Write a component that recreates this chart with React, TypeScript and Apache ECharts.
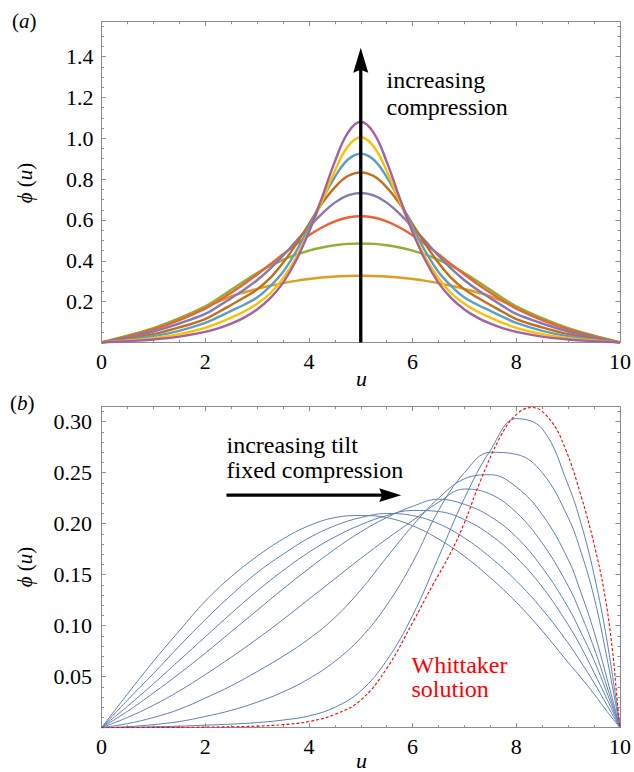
import React, { useEffect, useRef } from "react";
import * as echarts from "echarts";

// ---------- panel (a): profiles for increasing compression ----------
const uA = [0, 0.5, 1, 1.5, 2, 2.25, 2.5, 2.75, 3, 3.25, 3.5, 3.75, 4, 4.25, 4.5, 4.75, 5, 5.25, 5.5, 5.75, 6, 6.25, 6.5, 6.75, 7, 7.25, 7.5, 7.75, 8, 8.5, 9, 9.5, 10];

const phiA1 = [0, 0.032, 0.068, 0.116, 0.172, 0.2, 0.226, 0.245, 0.262, 0.278, 0.291, 0.302, 0.311, 0.318, 0.323, 0.326, 0.327, 0.326, 0.323, 0.318, 0.311, 0.302, 0.291, 0.278, 0.262, 0.245, 0.226, 0.2, 0.172, 0.116, 0.068, 0.032, 0];
const phiA2 = [0, 0.033, 0.07, 0.119, 0.177, 0.216, 0.258, 0.30, 0.34, 0.375, 0.405, 0.43, 0.45, 0.465, 0.476, 0.483, 0.485, 0.483, 0.476, 0.465, 0.45, 0.43, 0.405, 0.375, 0.34, 0.30, 0.258, 0.216, 0.177, 0.119, 0.07, 0.033, 0];
const phiA3 = [0, 0.03, 0.064, 0.11, 0.166, 0.203, 0.244, 0.287, 0.333, 0.382, 0.432, 0.48, 0.525, 0.563, 0.593, 0.612, 0.618, 0.612, 0.593, 0.563, 0.525, 0.48, 0.432, 0.382, 0.333, 0.287, 0.244, 0.203, 0.166, 0.11, 0.064, 0.03, 0];
const phiA4 = [0, 0.025, 0.054, 0.093, 0.14, 0.177, 0.217, 0.258, 0.305, 0.36, 0.425, 0.495, 0.565, 0.63, 0.685, 0.72, 0.732, 0.72, 0.685, 0.63, 0.565, 0.495, 0.425, 0.36, 0.305, 0.258, 0.217, 0.177, 0.14, 0.093, 0.054, 0.025, 0];
const phiA5 = [0, 0.019, 0.041, 0.074, 0.115, 0.148, 0.184, 0.22, 0.26, 0.315, 0.39, 0.48, 0.58, 0.68, 0.76, 0.815, 0.833, 0.815, 0.76, 0.68, 0.58, 0.48, 0.39, 0.315, 0.26, 0.22, 0.184, 0.148, 0.115, 0.074, 0.041, 0.019, 0];
const phiA6 = [0, 0.014, 0.031, 0.057, 0.096, 0.124, 0.155, 0.185, 0.22, 0.275, 0.345, 0.445, 0.565, 0.695, 0.81, 0.895, 0.924, 0.895, 0.81, 0.695, 0.565, 0.445, 0.345, 0.275, 0.22, 0.185, 0.155, 0.124, 0.096, 0.057, 0.031, 0.014, 0];
const phiA7 = [0, 0.009, 0.021, 0.041, 0.072, 0.095, 0.122, 0.152, 0.19, 0.24, 0.315, 0.415, 0.545, 0.69, 0.84, 0.96, 1.005, 0.96, 0.84, 0.69, 0.545, 0.415, 0.315, 0.24, 0.19, 0.152, 0.122, 0.095, 0.072, 0.041, 0.021, 0.009, 0];
const phiA8 = [0, 0.0065, 0.015, 0.029, 0.052, 0.069, 0.092, 0.122, 0.162, 0.216, 0.292, 0.40, 0.541, 0.708, 0.886, 1.027, 1.081, 1.027, 0.886, 0.708, 0.541, 0.40, 0.292, 0.216, 0.162, 0.122, 0.092, 0.069, 0.052, 0.029, 0.015, 0.0065, 0];

const profilesA = [phiA1, phiA2, phiA3, phiA4, phiA5, phiA6, phiA7, phiA8];
const colorsA = ["#E19C24", "#8FB032", "#EB6235", "#8778B3", "#C56E1A", "#5D9EC7", "#FFBF00", "#A5609D"];

// ---------- panel (b): profiles for increasing tilt ----------
const uB = [0, 0.5, 1, 1.5, 2, 2.5, 3, 3.5, 4, 4.5, 5, 5.5, 6, 6.5, 7, 7.5, 8, 8.5, 9, 9.25, 9.5, 9.75, 10];

const phiB1 = [0, 0.033, 0.065, 0.095, 0.124, 0.148, 0.168, 0.185, 0.198, 0.206, 0.208, 0.206, 0.198, 0.185, 0.168, 0.147, 0.123, 0.095, 0.064, 0.049, 0.033, 0.016, 0];
const phiB2 = [0, 0.027, 0.053, 0.080, 0.106, 0.130, 0.152, 0.170, 0.186, 0.198, 0.206, 0.210, 0.208, 0.200, 0.186, 0.167, 0.144, 0.116, 0.083, 0.064, 0.044, 0.022, 0];
const phiB3 = [0, 0.021, 0.043, 0.066, 0.089, 0.112, 0.134, 0.154, 0.172, 0.187, 0.199, 0.208, 0.213, 0.212, 0.204, 0.189, 0.167, 0.138, 0.101, 0.079, 0.054, 0.028, 0];
const phiB4 = [0, 0.016, 0.034, 0.053, 0.073, 0.094, 0.115, 0.136, 0.156, 0.175, 0.192, 0.206, 0.217, 0.224, 0.219, 0.207, 0.187, 0.157, 0.118, 0.093, 0.066, 0.034, 0];
const phiB5 = [0, 0.010, 0.022, 0.036, 0.052, 0.069, 0.087, 0.106, 0.126, 0.146, 0.166, 0.185, 0.203, 0.221, 0.234, 0.229, 0.211, 0.181, 0.139, 0.111, 0.078, 0.040, 0];
const phiB6 = [0, 0.004, 0.010, 0.018, 0.029, 0.041, 0.055, 0.070, 0.087, 0.108, 0.135, 0.167, 0.198, 0.225, 0.244, 0.248, 0.236, 0.209, 0.165, 0.132, 0.094, 0.048, 0];
const phiB7 = [0, 0.001, 0.003, 0.006, 0.011, 0.017, 0.025, 0.035, 0.048, 0.065, 0.088, 0.120, 0.162, 0.213, 0.250, 0.270, 0.268, 0.250, 0.206, 0.172, 0.128, 0.068, 0];
const phiB8 = [0, 0.0003, 0.001, 0.0015, 0.0025, 0.0035, 0.005, 0.0075, 0.0115, 0.02, 0.036, 0.066, 0.11, 0.167, 0.225, 0.272, 0.303, 0.293, 0.238, 0.200, 0.150, 0.085, 0];

const profilesB = [phiB1, phiB2, phiB3, phiB4, phiB5, phiB6, phiB7, phiB8];

// Whittaker limit
const uW = [0, 1, 2, 3, 3.5, 4, 4.5, 5, 5.5, 6, 6.4, 6.7, 7, 7.3, 7.7, 8, 8.3, 8.65, 8.95, 9.25, 9.5, 9.7, 9.85, 9.94, 10];
const phiW = [0, 0.0002, 0.0006, 0.0015, 0.003, 0.006, 0.013, 0.027, 0.058, 0.103, 0.141, 0.168, 0.201, 0.241, 0.286, 0.307, 0.314, 0.302, 0.273, 0.227, 0.180, 0.132, 0.078, 0.030, 0];

// ---------- axes ----------
const xTickLabels = ["0", "2", "4", "6", "8", "10"];
const yTickLabelsA = ["0.2", "0.4", "0.6", "0.8", "1.0", "1.2", "1.4"];
const yTickLabelsB = ["0.05", "0.10", "0.15", "0.20", "0.25", "0.30"];

// annotation arrows, in data units: [u, phi]
const arrowA = { from: [5, 0], to: [5, 1.444] };
const arrowB = { from: [2.41, 0.228], to: [5.78, 0.228] };

const SERIF = "Liberation Serif";
const FRAME = "#8c8c8c";

function pickLabel(list: string[], digits: number) {
  return (v: number) => {
    const s = digits === 0 ? String(Math.round(v)) : v.toFixed(digits);
    return list.includes(s) && Math.abs(Number(s) - v) < 1e-6 ? s : "";
  };
}

function frameAxis(o: any) {
  return {
    type: "value",
    gridIndex: o.grid,
    position: o.position,
    min: o.min,
    max: o.max,
    interval: o.interval,
    axisLine: { show: true, onZero: false, lineStyle: { color: FRAME, width: 1 } },
    axisTick: { show: true, inside: true, length: 4.5, lineStyle: { color: FRAME, width: 1 } },
    minorTick: { show: true, splitNumber: o.minor, length: 2.5, lineStyle: { color: FRAME, width: 1 } },
    splitLine: { show: false },
    minorSplitLine: { show: false },
    axisLabel: o.labels
      ? {
          show: true,
          margin: o.margin,
          color: "#000",
          fontFamily: SERIF,
          fontSize: 22,
          formatter: o.labels,
        }
      : { show: false },
  };
}

function arrowShapes(p0: number[], p1: number[], shaft: number, headLen: number, headHalf: number, notch: number) {
  const dx = p1[0] - p0[0];
  const dy = p1[1] - p0[1];
  const L = Math.hypot(dx, dy);
  const ux = dx / L;
  const uy = dy / L;
  const nx = -uy;
  const ny = ux;
  const bx = p1[0] - ux * headLen;
  const by = p1[1] - uy * headLen;
  const mx = p1[0] - ux * (headLen - notch);
  const my = p1[1] - uy * (headLen - notch);
  return [
    {
      type: "line",
      silent: true,
      shape: { x1: p0[0], y1: p0[1], x2: mx, y2: my },
      style: { stroke: "#000", lineWidth: shaft },
      z: 100,
    },
    {
      type: "polygon",
      silent: true,
      shape: {
        points: [
          [p1[0], p1[1]],
          [bx + nx * headHalf, by + ny * headHalf],
          [mx, my],
          [bx - nx * headHalf, by - ny * headHalf],
        ],
      },
      style: { fill: "#000" },
      z: 100,
    },
  ];
}

function label(text: string, x: number, y: number, opts: any = {}) {
  const size = opts.size || 24;
  const fill = opts.fill || "#000";
  return {
    type: "text",
    silent: true,
    x,
    y,
    rotation: opts.rotation || 0,
    z: 100,
    style: {
      text,
      fill,
      fontFamily: SERIF,
      fontSize: size,
      align: opts.align || "left",
      verticalAlign: "middle",
      rich: {
        i: { fontFamily: SERIF, fontSize: size, fontStyle: "italic", fill },
        n: { fontFamily: SERIF, fontSize: size, fill },
      },
    },
  };
}

export default function App() {
  const ref = useRef<HTMLDivElement>(null);

  useEffect(() => {
    if (!ref.current) return;
    const chart = echarts.init(ref.current, null, { renderer: "svg" });

    const seriesA = profilesA.map((vals, k) => ({
      type: "line",
      xAxisIndex: 0,
      yAxisIndex: 0,
      data: uA.map((u, i) => [u, vals[i]]),
      showSymbol: false,
      smooth: 0.4,
      silent: true,
      lineStyle: { color: colorsA[k], width: 2.4 },
      itemStyle: { color: colorsA[k] },
      z: 2 + k,
    }));

    const seriesB = profilesB.map((vals) => ({
      type: "line",
      xAxisIndex: 2,
      yAxisIndex: 2,
      data: uB.map((u, i) => [u, vals[i]]),
      showSymbol: false,
      smooth: 0.4,
      silent: true,
      lineStyle: { color: "#5E81B5", width: 1 },
      itemStyle: { color: "#5E81B5" },
      z: 2,
    }));

    const whittaker = {
      type: "line",
      xAxisIndex: 2,
      yAxisIndex: 2,
      data: uW.map((u, i) => [u, phiW[i]]),
      showSymbol: false,
      smooth: 0.4,
      silent: true,
      lineStyle: { color: "#FF0000", width: 1.1, type: [3, 2] },
      itemStyle: { color: "#FF0000" },
      z: 5,
    };

    const option: any = {
      animation: false,
      backgroundColor: "#fff",
      grid: [
        { left: 101.5, right: 12.3, top: 21.7, height: 320.8, containLabel: false },
        { left: 101.5, right: 12.3, top: 406.7, height: 321, containLabel: false },
      ],
      xAxis: [
        frameAxis({ grid: 0, position: "bottom", min: 0, max: 10, interval: 2, minor: 4, margin: 8, labels: pickLabel(xTickLabels, 0) }),
        frameAxis({ grid: 0, position: "top", min: 0, max: 10, interval: 2, minor: 4 }),
        frameAxis({ grid: 1, position: "bottom", min: 0, max: 10, interval: 2, minor: 4, margin: 8, labels: pickLabel(xTickLabels, 0) }),
        frameAxis({ grid: 1, position: "top", min: 0, max: 10, interval: 2, minor: 4 }),
      ],
      yAxis: [
        frameAxis({ grid: 0, position: "left", min: 0, max: 1.571, interval: 0.2, minor: 4, margin: 8, labels: pickLabel(yTickLabelsA, 1) }),
        frameAxis({ grid: 0, position: "right", min: 0, max: 1.571, interval: 0.2, minor: 4 }),
        frameAxis({ grid: 1, position: "left", min: 0, max: 0.3147, interval: 0.05, minor: 5, margin: 9.5, labels: pickLabel(yTickLabelsB, 2) }),
        frameAxis({ grid: 1, position: "right", min: 0, max: 0.3147, interval: 0.05, minor: 5 }),
      ],
      series: [...seriesA, ...seriesB, whittaker],
    };

    chart.setOption(option);

    const pa0 = chart.convertToPixel({ gridIndex: 0 }, arrowA.from) as number[];
    const pa1 = chart.convertToPixel({ gridIndex: 0 }, arrowA.to) as number[];
    const pb0 = chart.convertToPixel({ gridIndex: 1 }, arrowB.from) as number[];
    const pb1 = chart.convertToPixel({ gridIndex: 1 }, arrowB.to) as number[];

    chart.setOption({
      graphic: [
        ...arrowShapes(pa0, pa1, 3.3, 25, 7.5, 3),
        ...arrowShapes(pb0, pb1, 3.3, 22, 6.8, 3),
        label("{n|(}{i|a}{n|)}", 12, 21, { size: 21 }),
        label("{n|(}{i|b}{n|)}", 10, 402.5, { size: 21 }),
        label("{i|ϕ} {n|(}{i|u}{n|)}", 25, 183, { size: 21, rotation: Math.PI / 2, align: "center" }),
        label("{i|ϕ} {n|(}{i|u}{n|)}", 25, 567, { size: 21, rotation: Math.PI / 2, align: "center" }),
        label("{i|u}", 361.5, 378.5, { size: 22, align: "center" }),
        label("{i|u}", 361.5, 760, { size: 22, align: "center" }),
        label("increasing", 386.5, 80, { size: 24 }),
        label("compression", 386.5, 107, { size: 24 }),
        label("increasing tilt", 226.5, 445, { size: 24 }),
        label("fixed compression", 226.5, 469.5, { size: 24 }),
        label("Whittaker", 411.5, 665, { size: 24, fill: "#FF0000" }),
        label("solution", 411.5, 688.5, { size: 24, fill: "#FF0000" }),
      ],
    });

    return () => chart.dispose();
  }, []);

  return (
    <div
      ref={ref}
      style={{ position: "fixed", left: 0, top: 0, width: 634, height: 772, background: "#fff" }}
    />
  );
}
